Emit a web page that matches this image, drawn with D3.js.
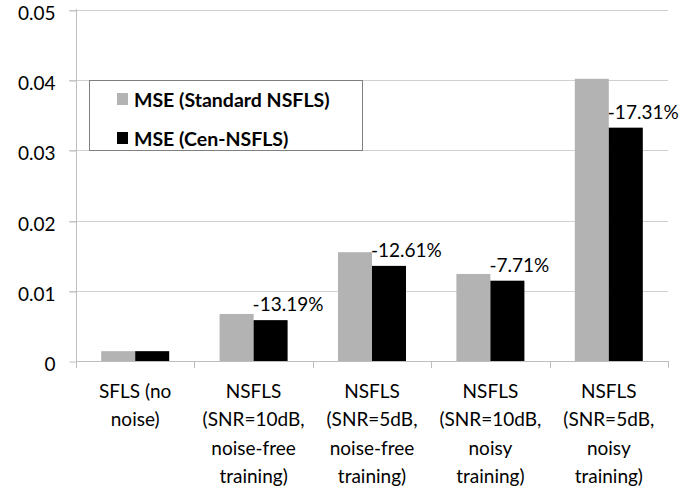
<!DOCTYPE html>
<html>
<head>
<meta charset="utf-8">
<script src="https://cdn.jsdelivr.net/npm/d3@7"></script>
<style>
  html, body { margin: 0; padding: 0; background: #fff; }
  svg { display: block; }
  text { font-family: Lato, "Open Sans", sans-serif; }
</style>
</head>
<body>
<svg id="chart" width="700" height="486"></svg>
<script>
const categories = [
  ["SFLS (no", "noise)"],
  ["NSFLS", "(SNR=10dB,", "noise-free", "training)"],
  ["NSFLS", "(SNR=5dB,", "noise-free", "training)"],
  ["NSFLS", "(SNR=10dB,", "noisy", "training)"],
  ["NSFLS", "(SNR=5dB,", "noisy", "training)"]
];
const seriesNames = ["MSE (Standard NSFLS)", "MSE (Cen-NSFLS)"];
const standardMSE = [0.0014, 0.0067, 0.0155, 0.0124, 0.0402];
const cenMSE      = [0.0014, 0.00582, 0.01355, 0.01144, 0.03324];
const changeLabels = [null, "-13.19%", "-12.61%", "-7.71%", "-17.31%"];
const yTicks = [0, 0.01, 0.02, 0.03, 0.04, 0.05];

const svg = d3.select("#chart");
const pLeft = 76, pRight = 668, pTop = 10, pBottom = 361;
const colors = ["#b3b3b3", "#000000"];
const fs = "19px";

const x = d3.scaleBand().domain(d3.range(categories.length)).range([pLeft, pRight]).paddingInner(0).paddingOuter(0);
const y = d3.scaleLinear().domain([0, 0.05]).range([pBottom, pTop]);
const barW = 34;

// gridlines
svg.append("g").selectAll("line").data(yTicks.filter(d => d > 0)).join("line")
  .attr("x1", pLeft - 7).attr("x2", pRight)
  .attr("y1", d => Math.round(y(d)) + 0.5).attr("y2", d => Math.round(y(d)) + 0.5)
  .attr("stroke", "#d0d0d0").attr("stroke-width", 1);

// y axis
const yAxis = d3.axisLeft(y).tickValues(yTicks).tickSize(7).tickPadding(14)
  .tickFormat(d => d === 0 ? "0" : d3.format(".2f")(d));
const gy = svg.append("g").attr("transform", `translate(${pLeft + 0.5},0)`).call(yAxis);
gy.select(".domain").attr("stroke", "#bdbdbd").attr("d", `M0,${pBottom + 6}V${pTop - 1}`);
gy.selectAll(".tick line").attr("stroke", "#bdbdbd")
  .attr("transform", d => `translate(0,${Math.round(y(d)) + 0.5 - y(d)})`);
gy.selectAll(".tick text").attr("font-size", fs).attr("fill", "#000")
  .attr("font-family", "Lato, sans-serif").attr("dy", "0.5em");

// bars
const groups = svg.append("g");
const series = [standardMSE, cenMSE];
series.forEach((vals, si) => {
  groups.append("g").selectAll("rect").data(vals).join("rect")
    .attr("x", (d, i) => x(i) + x.bandwidth() / 2 - barW + si * barW)
    .attr("y", d => y(d))
    .attr("width", barW)
    .attr("height", d => pBottom - y(d))
    .attr("fill", colors[si]);
});

// x axis
svg.append("line").attr("x1", pLeft).attr("x2", pRight + 1)
  .attr("y1", pBottom + 0.5).attr("y2", pBottom + 0.5).attr("stroke", "#bdbdbd");
svg.append("g").selectAll("line").data(d3.range(categories.length + 1)).join("line")
  .attr("x1", i => Math.round(pLeft + i * x.bandwidth()) + 0.5)
  .attr("x2", i => Math.round(pLeft + i * x.bandwidth()) + 0.5)
  .attr("y1", pBottom).attr("y2", pBottom + 7).attr("stroke", "#bdbdbd");

// category labels
const cl = svg.append("g").selectAll("text").data(categories).join("text")
  .attr("text-anchor", "middle").attr("font-size", fs).attr("fill", "#000");
cl.each(function(lines, i) {
  d3.select(this).selectAll("tspan").data(lines).join("tspan")
    .attr("x", x(i) + x.bandwidth() / 2)
    .attr("y", (d, k) => 398 + k * 28.3)
    .text(d => d);
});

// change labels
svg.append("g").selectAll("text").data(changeLabels.map((t, i) => ({t, i}))).join("text")
  .filter(d => d.t !== null)
  .attr("x", d => x(d.i) + x.bandwidth() / 2 - 1)
  .attr("y", d => y(cenMSE[d.i]) - 9)
  .attr("font-size", fs).attr("fill", "#000")
  .text(d => d.t);

// legend
const lg = svg.append("g");
lg.append("rect").attr("x", 89.5).attr("y", 80.5).attr("width", 273).attr("height", 70)
  .attr("fill", "#fff").attr("stroke", "#7f7f7f").attr("stroke-width", 1);
seriesNames.forEach((name, i) => {
  const base = 107 + i * 39;
  lg.append("rect").attr("x", 117).attr("y", base - 14).attr("width", 11).attr("height", 12)
    .attr("fill", colors[i]);
  lg.append("text").attr("x", 134).attr("y", base)
    .attr("font-size", "19.5px").attr("font-weight", "bold").attr("fill", "#000").text(name);
});
</script>
</body>
</html>
